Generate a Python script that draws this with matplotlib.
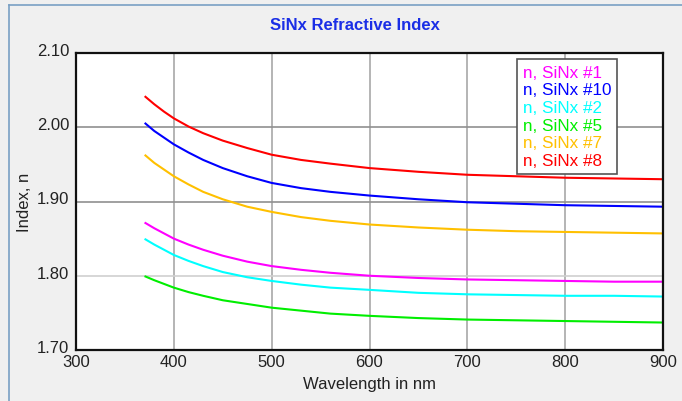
import matplotlib
matplotlib.use('Agg')
import matplotlib.pyplot as plt
from matplotlib.lines import Line2D
from matplotlib.transforms import ScaledTranslation

plt.rcParams['font.family'] = ['Liberation Sans', 'DejaVu Sans']

# wavelengths (nm) the curves were read at
wavelength = [371, 380, 390, 400, 415, 430, 450, 475, 500, 530, 560, 600,
              650, 700, 750, 800, 850, 900]

# refractive index
n_sinx_1 = [1.871, 1.864, 1.857, 1.850, 1.842, 1.835, 1.827, 1.819, 1.813, 1.808,
            1.804, 1.800, 1.797, 1.795, 1.794, 1.793, 1.792, 1.792]
n_sinx_10 = [2.005, 1.995, 1.986, 1.977, 1.966, 1.956, 1.945, 1.934, 1.925, 1.918,
             1.913, 1.908, 1.903, 1.899, 1.897, 1.895, 1.894, 1.893]
n_sinx_2 = [1.849, 1.842, 1.835, 1.828, 1.820, 1.813, 1.805, 1.798, 1.793, 1.788,
            1.784, 1.781, 1.777, 1.775, 1.774, 1.773, 1.773, 1.772]
n_sinx_5 = [1.799, 1.794, 1.789, 1.784, 1.778, 1.773, 1.767, 1.762, 1.757, 1.753,
            1.749, 1.746, 1.743, 1.741, 1.740, 1.739, 1.738, 1.737]
n_sinx_7 = [1.962, 1.952, 1.943, 1.934, 1.923, 1.913, 1.903, 1.893, 1.886, 1.879,
            1.874, 1.869, 1.865, 1.862, 1.860, 1.859, 1.858, 1.857]
n_sinx_8 = [2.041, 2.031, 2.021, 2.012, 2.001, 1.992, 1.982, 1.972, 1.963, 1.956,
            1.951, 1.945, 1.940, 1.936, 1.934, 1.932, 1.931, 1.930]

labels = ['n, SiNx #1', 'n, SiNx #10', 'n, SiNx #2', 'n, SiNx #5', 'n, SiNx #7', 'n, SiNx #8']
colors = ['#ff00ff', '#0000ff', '#00ffff', '#00ee00', '#ffc000', '#ff0000']
series = [n_sinx_1, n_sinx_10, n_sinx_2, n_sinx_5, n_sinx_7, n_sinx_8]

x_ticks = [300, 400, 500, 600, 700, 800, 900]
y_ticks = [1.70, 1.80, 1.90, 2.00, 2.10]

fig = plt.figure(figsize=(6.82, 4.02), dpi=100)
fig.patch.set_facecolor('#f0f0f0')

# blue-grey frame on the left and top edges
fig.add_artist(Line2D([9 / 682, 9 / 682], [0, 1 - 6 / 402], transform=fig.transFigure,
                      color='#7aa0c4', linewidth=1.2))
fig.add_artist(Line2D([9 / 682, 1], [1 - 6 / 402, 1 - 6 / 402], transform=fig.transFigure,
                      color='#7aa0c4', linewidth=1.2))

ax = fig.add_axes([76 / 682, 51 / 402, 587 / 682, 297 / 402])
ax.set_facecolor('white')

for ys, c in zip(series, colors):
    ax.plot(wavelength, ys, color=c, linewidth=1.5, solid_joinstyle='round')

ax.set_xlim(300, 900)
ax.set_ylim(1.70, 2.10)
ax.set_xticks(x_ticks)
ax.set_yticks(y_ticks)
ax.set_yticklabels([f'{v:.2f}' for v in y_ticks])
ax.tick_params(length=0, labelsize=12, colors='#222222')
ax.tick_params(axis='x', pad=3)
ax.tick_params(axis='y', pad=5)
ax.grid(True, color='#a8a8a8', linewidth=1.2)
ax.yaxis.get_gridlines()[1].set_color('#cfcfcf')
ax.yaxis.get_gridlines()[2].set_color('#909090')
ax.yaxis.get_gridlines()[3].set_color('#909090')

# y labels sit a little above their gridline in the original
shift = ScaledTranslation(0, 4 / 100, fig.dpi_scale_trans)
for lab in ax.get_yticklabels():
    lab.set_transform(lab.get_transform() + shift)

for s in ax.spines.values():
    s.set_linewidth(1.6)
    s.set_color('#111111')

ax.set_xlabel('Wavelength in nm', fontsize=12, labelpad=5, color='#222222')
ax.set_ylabel('Index, n', fontsize=12, labelpad=3.5, color='#222222')
fig.text(355 / 682, 1 - 25 / 402, 'SiNx Refractive Index', ha='center', va='center',
         fontsize=12, fontweight='bold', color='#1a2ee6')

handles = [Line2D([], [], linestyle='none') for _ in labels]
leg = ax.legend(handles, labels, loc='upper right', bbox_to_anchor=(0.9216, 0.98),
                borderaxespad=0, handlelength=0, handletextpad=0, fontsize=12.3,
                frameon=True, fancybox=False, borderpad=0.35, labelspacing=0.15)
leg.get_frame().set_edgecolor('#555555')
leg.get_frame().set_linewidth(1.2)
leg.get_frame().set_alpha(1)
for txt, c in zip(leg.get_texts(), colors):
    txt.set_color(c)

fig.savefig('out.png', dpi=100, facecolor=fig.get_facecolor())
